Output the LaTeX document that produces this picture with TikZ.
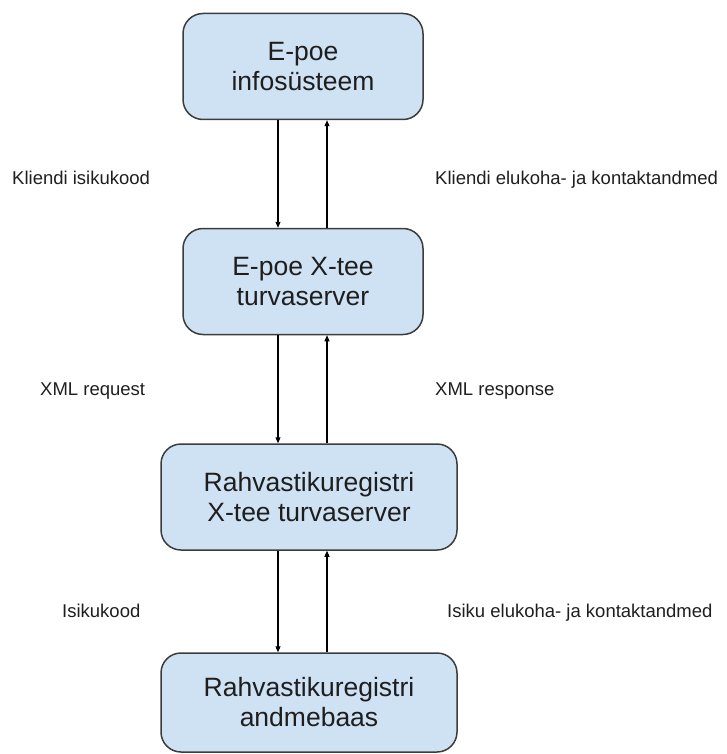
\documentclass[tikz,border=0pt]{standalone}
\usepackage{fontspec}
\setmainfont{Liberation Sans}
\usetikzlibrary{arrows.meta}
\definecolor{kastfill}{HTML}{CFE2F3}
\definecolor{kastdraw}{HTML}{3C3C3C}
\definecolor{tekst}{HTML}{1E1E1E}

\begin{document}
\begin{tikzpicture}[x=1pt,y=-1pt]
\tikzset{kast/.style={draw=kastdraw, fill=kastfill, line width=1.5pt, rounded corners=20pt, inner sep=0pt, align=center, text=tekst, font=\fontsize{26.5}{30}\selectfont},
silt/.style={anchor=base west, inner sep=0pt, text=tekst, font=\fontsize{18.5}{22}\selectfont},
nool/.style={draw=black, line width=1.1pt, -{Triangle[length=6pt,width=5pt]}}}
\useasboundingbox (0,0) rectangle (727,754);
\node[kast, minimum width=240pt, minimum height=106pt] (I) at (303,66.5) {E-poe\\infosüsteem};
\node[kast, minimum width=240pt, minimum height=106pt] (T1) at (303,281.5) {E-poe X-tee\\turvaserver};
\node[kast, minimum width=296pt, minimum height=106pt] (T2) at (309,497) {Rahvastikuregistri\\X-tee turvaserver};
\node[kast, minimum width=296pt, minimum height=99pt] (A) at (309,702.5) {Rahvastikuregistri\\andmebaas};
\coordinate (dn) at (278,0);
\coordinate (up) at (327,0);
\draw[nool] (I.south -| dn) -- (T1.north -| dn);
\draw[nool] (T1.north -| up) -- (I.south -| up);
\draw[nool] (T1.south -| dn) -- (T2.north -| dn);
\draw[nool] (T2.north -| up) -- (T1.south -| up);
\draw[nool] (T2.south -| dn) -- (A.north -| dn);
\draw[nool] (A.north -| up) -- (T2.south -| up);
\node[silt] (L1) at (12,185) {Kliendi isikukood};
\node[silt] (R1) at (435,185) {Kliendi elukoha- ja kontaktandmed};
\node[silt] (L2) at (40,395) {XML request};
\node[silt] (R2) at (435,395) {XML response};
\node[silt] (L3) at (62,617) {Isikukood};
\node[silt] (R3) at (447,617) {Isiku elukoha- ja kontaktandmed};
\end{tikzpicture}
\end{document}
